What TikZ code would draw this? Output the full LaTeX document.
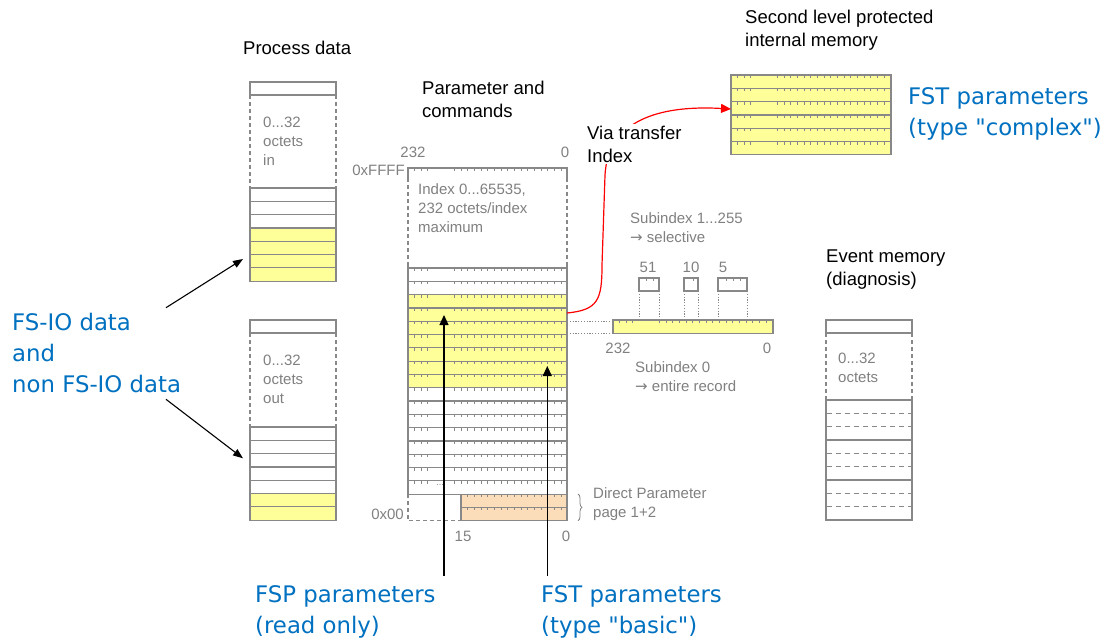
\documentclass[tikz,border=0pt]{standalone}
\usepackage{fontspec}
\setmainfont{Liberation Sans}
\newfontfamily\bluefont{DejaVu Sans}
\usetikzlibrary{arrows.meta,decorations.pathreplacing}

\definecolor{cellgray}{RGB}{136,136,136}
\definecolor{labelgray}{RGB}{128,128,128}
\definecolor{memyellow}{RGB}{255,255,153}
\definecolor{dporange}{RGB}{252,221,186}
\definecolor{fsblue}{RGB}{0,112,192}
\definecolor{linkred}{RGB}{255,0,0}

\newcommand\blackfont{\fontsize{18.5}{23}\selectfont}
\newcommand\grayfont{\fontsize{15}{19}\selectfont}
\newcommand\bigblue{\bluefont\fontsize{22.8}{31}\selectfont}
\newcommand\rarr{{\bluefont\symbol{"2192}}}

\tikzset{
  cell/.style={draw=cellgray, line width=1.2pt},
  cellside/.style={draw=cellgray, line width=1.2pt, dash pattern=on 4pt off 3pt},
  evdash/.style={draw=cellgray, line width=1pt, dash pattern=on 5pt off 4pt},
  tickmark/.style={draw=cellgray, line width=0.8pt},
  guide/.style={draw=cellgray, line width=0.8pt, dash pattern=on 1.2pt off 1.6pt},
  title/.style={inner sep=0pt, align=left, font=\blackfont, text=black},
  note/.style={inner sep=0pt, align=left, font=\grayfont, text=labelgray},
  callout/.style={inner sep=0pt, align=left, font=\bigblue, text=fsblue},
  pointer/.style={draw=black, line width=1.2pt, -{Triangle[length=10pt,width=9pt]}},
  thinpointer/.style={draw=black, line width=1.1pt, -{Triangle[length=10pt,width=7.5pt]}},
  transfer/.style={draw=linkred, line width=1.2pt, -{Triangle[length=10pt,width=9pt]}, fill=none},
}

% ruler ticks hanging from the top edge of one record row (left x, top y)
\newcommand\rowticks[2]{%
  \foreach \dx in {6.5,13,19.5} {\draw[tickmark] ({#1+\dx},{#2}) -- ++(0,3);}
  \foreach \k in {0,...,16} {\draw[tickmark] ({#1+46.5+6.67*\k},{#2}) -- ++(0,3);}
}

\begin{document}
\begin{tikzpicture}[x=1pt,y=-1pt]
\useasboundingbox (0,0) rectangle (1105,642);

% ---------------- process data ----------------
\node[title, anchor=west] (pd-title) at (243,48) {Process data};

% input image
\draw[cell, fill=white] (250,82) rectangle (336,95);
\draw[cellside] (250,95) -- (250,188) (336,95) -- (336,188);
\foreach \i in {0,1,2} \draw[cell, fill=white] (250,{188+13.3*\i}) rectangle (336,{188+13.3*(\i+1)});
\foreach \i in {3,...,6} \draw[cell, fill=memyellow] (250,{188+13.3*\i}) rectangle (336,{188+13.3*(\i+1)});
\node[note, anchor=west] (pd-in) at (263,141) {0...32\\octets\\in};

% output image
\draw[cell, fill=white] (250,320) rectangle (336,333);
\draw[cellside] (250,333) -- (250,427) (336,333) -- (336,427);
\foreach \i in {0,...,4} \draw[cell, fill=white] (250,{427+13.3*\i}) rectangle (336,{427+13.3*(\i+1)});
\foreach \i in {5,6} \draw[cell, fill=memyellow] (250,{427+13.3*\i}) rectangle (336,{427+13.3*(\i+1)});
\node[note, anchor=west] (pd-out) at (263,379) {0...32\\octets\\out};

% ---------------- parameter and commands ----------------
\node[title, anchor=west] (pc-title) at (422,99) {Parameter and\\commands};
\node[note] (pc-232) at (413,152) {232};
\node[note] (pc-0) at (565,152) {0};
\node[note, anchor=east] (pc-top) at (405,170) {0xFFFF};

\draw[cell] (408,178) -- (408,168) -- (567,168) -- (567,178);
\rowticks{408}{168}
\draw[cellside] (408,178) -- (408,262) (567,178) -- (567,262);
\draw[cell] (408,262) -- (408,268) (567,262) -- (567,268);
\node[note, anchor=west] (pc-range) at (418,208) {Index 0...65535,\\232 octets/index\\maximum};

\foreach \i in {0,1,9,10,...,16} \draw[cell, fill=white] (408,{268+13.3*\i}) rectangle (567,{268+13.3*(\i+1)});
\foreach \i in {2,...,8} \draw[cell, fill=memyellow] (408,{268+13.3*\i}) rectangle (567,{268+13.3*(\i+1)});
\foreach \i in {0,...,16} {\rowticks{408}{268+13.3*\i}}
\node[note, font=\fontsize{9}{9}\selectfont] (pc-dots) at (440,485) {...};

% direct parameter pages
\draw[cell, fill=dporange] (461,494.1) rectangle (567,507.4);
\draw[cell, fill=dporange] (461,507.4) rectangle (567,520.7);
\foreach \y in {494.1,507.4} {\foreach \k in {2,...,16} {\draw[tickmark] ({454.5+6.67*\k},\y) -- ++(0,3);}}
\draw[cellside] (408,494.1) -- (408,520.7) -- (461,520.7);
\node[note, anchor=east] (pc-bottom) at (404,514) {0x00};
\node[note] (pc-15) at (463,536) {15};
\node[note] (pc-0b) at (566,536) {0};
\draw[draw=labelgray, line width=0.8pt, decorate, decoration={brace, amplitude=4pt}] (578,494) -- (578,520.7);
\node[note, anchor=west] (dp-label) at (593,504) {Direct Parameter\\page 1+2};

% ---------------- subindex access ----------------
\node[note, anchor=west] (sub-sel) at (630,228) {Subindex 1...255\\\rarr\ selective};
\node[note] (sub-51) at (648,267) {51};
\node[note] (sub-10) at (691,267) {10};
\node[note] (sub-5) at (723,267) {5};

\draw[cell, fill=white] (639,278) rectangle (659,291);
\foreach \x in {646.7,653.3} \draw[tickmark] (\x,278) -- ++(0,3);
\draw[cell, fill=white] (684,278) rectangle (698,291);
\draw[tickmark] (693.3,278) -- ++(0,3);
\draw[cell, fill=white] (718,278) rectangle (747,291);
\foreach \x in {726.7,733.3,740} \draw[tickmark] (\x,278) -- ++(0,3);
\foreach \x in {639,659,684,698,718,747} \draw[guide] (\x,291) -- (\x,320);

\draw[guide] (567,321) -- (613,321) (567,333.3) -- (613,333.3);
\draw[cell, fill=memyellow] (613,320) rectangle (773,333.3);
\rowticks{613}{320}
\node[note] (bar-232) at (618,348) {232};
\node[note] (bar-0) at (767,348) {0};
\node[note, anchor=west] (sub-all) at (635,377) {Subindex 0\\\rarr\ entire record};

% ---------------- second level protected internal memory ----------------
\node[title, anchor=west] (slm-title) at (745,30.5) {Second level protected\\internal memory};
\foreach \i in {0,...,5} {
  \draw[cell, fill=memyellow] (731,{75+13.3*\i}) rectangle (891,{75+13.3*(\i+1)});
  \rowticks{731}{75+13.3*\i}
}
\node[callout, anchor=west] (fst-complex) at (908,114) {FST parameters\\(type "complex")};

% ---------------- event memory ----------------
\node[title, anchor=west] (ev-title) at (826,270) {Event memory\\(diagnosis)};
\draw[cell, fill=white] (826,320) rectangle (912,333);
\draw[cellside] (826,333) -- (826,400) (912,333) -- (912,400);
\draw[cell] (826,400) rectangle (912,520);
\draw[cell] (826,440) -- (912,440) (826,480) -- (912,480);
\foreach \y in {413.3,426.7,453.3,466.7,493.3,506.7} \draw[evdash] (827,\y) -- (911,\y);
\node[note, anchor=west] (ev-size) at (838,367.5) {0...32\\octets};

% ---------------- transfer link ----------------
\coordinate (pc-out) at (567,313);
\coordinate (slm-in) at (731,109);
\draw[transfer] (pc-out) .. controls (598,310) and (602,300) .. (602,265)
  -- (605,175) .. controls (608,120) and (660,105) .. (slm-in);
\node[title, anchor=west, fill=white, inner sep=2pt] (via) at (585,144) {Via transfer\\Index};

% ---------------- callouts ----------------
\node[callout, anchor=west] (fsio) at (12,353) {FS-IO data\\and\\non FS-IO data};
\coordinate (fsio-a) at (166,307.7);
\coordinate (pd-in-hit) at (243,259);
\coordinate (fsio-b) at (166,399.3);
\coordinate (pd-out-hit) at (243,458.3);
\draw[thinpointer] (fsio-a) -- (pd-in-hit);
\draw[thinpointer] (fsio-b) -- (pd-out-hit);

\node[callout, anchor=west] (fsp) at (255,611.5) {FSP parameters\\(read only)};
\node[callout, anchor=west] (fst-basic) at (541,611.5) {FST parameters\\(type "basic")};
\coordinate (fsp-tip) at (444,315);
\coordinate (fst-tip) at (547.3,366);
\draw[pointer] (fsp-tip |- 0,576) -- (fsp-tip);
\draw[pointer] (fst-tip |- 0,576) -- (fst-tip);
\end{tikzpicture}
\end{document}
